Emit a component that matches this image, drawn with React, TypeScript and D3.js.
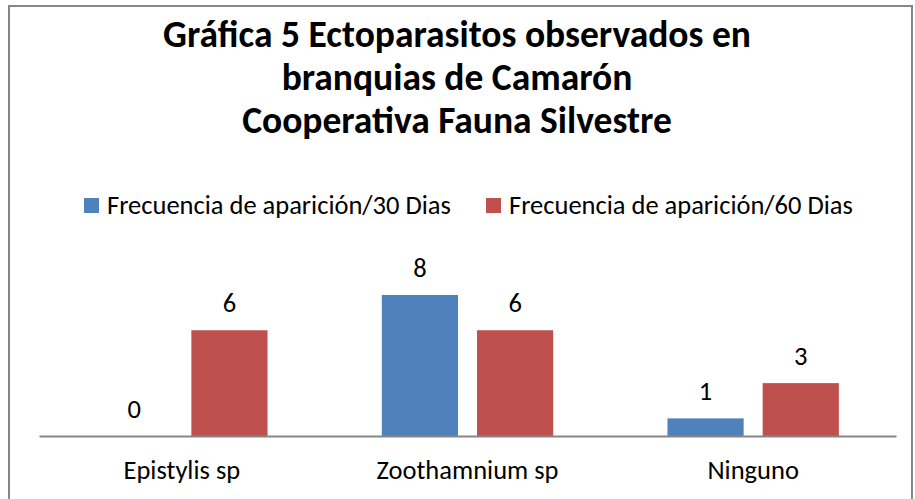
import React, { useEffect, useRef } from 'react';
import * as d3 from 'd3';

const categories = ['Epistylis sp', 'Zoothamnium sp', 'Ninguno'];
const seriesNames = ['Frecuencia de aparición/30 Dias', 'Frecuencia de aparición/60 Dias'];
const dias30 = [0, 8, 1];
const dias60 = [6, 6, 3];
const colors = ['#4F81BD', '#C0504D'];
const titleLines = ['Gráfica 5 Ectoparasitos observados en', 'branquias de Camarón', 'Cooperativa Fauna Silvestre'];

const W = 915;
const H = 499;
const FONT = "Carlito, Calibri, 'Open Sans', sans-serif";

const App = () => {
  const svgRef = useRef<SVGSVGElement>(null);

  useEffect(() => {
    document.body.style.margin = '0';
    const svg = d3.select(svgRef.current);
    svg.selectAll('*').remove();

    // chart border
    svg.append('rect')
      .attr('x', 9).attr('y', 6)
      .attr('width', W - 12).attr('height', H)
      .attr('fill', 'white')
      .attr('stroke', '#868686')
      .attr('stroke-width', 2);

    // title
    svg.append('g')
      .selectAll('text')
      .data(titleLines)
      .enter()
      .append('text')
      .attr('x', 457)
      .attr('y', (_, i) => 47 + i * 43)
      .attr('text-anchor', 'middle')
      .attr('font-family', FONT)
      .attr('font-weight', 'bold')
      .attr('font-size', 37.5)
      .text(d => d);

    // legend
    const legendX = [84, 486];
    const legend = svg.append('g');
    seriesNames.forEach((name, i) => {
      legend.append('rect')
        .attr('x', legendX[i]).attr('y', 198)
        .attr('width', 15).attr('height', 15)
        .attr('fill', colors[i]);
      legend.append('text')
        .attr('x', legendX[i] + 23).attr('y', 214)
        .attr('font-family', FONT)
        .attr('font-size', 26.5)
        .text(name);
    });

    const x0 = d3.scaleBand()
      .domain(categories)
      .range([39, 896]);

    const x1 = d3.scaleBand()
      .domain(['0', '1'])
      .range([0, x0.bandwidth()])
      .paddingInner(0.2)
      .paddingOuter(0.6);

    const y = d3.scaleLinear()
      .domain([0, 8])
      .range([436, 295]);

    const data = categories.map((c, i) => ({ cat: c, vals: [dias30[i], dias60[i]] }));

    const groups = svg.append('g')
      .selectAll('g')
      .data(data)
      .enter()
      .append('g')
      .attr('transform', d => `translate(${x0(d.cat)},0)`);

    groups.selectAll('rect')
      .data(d => d.vals.map((v, k) => ({ v, k })))
      .enter()
      .append('rect')
      .attr('x', d => x1(String(d.k))!)
      .attr('y', d => y(d.v))
      .attr('width', x1.bandwidth())
      .attr('height', d => y(0) - y(d.v))
      .attr('fill', d => colors[d.k]);

    groups.selectAll('text')
      .data(d => d.vals.map((v, k) => ({ v, k })))
      .enter()
      .append('text')
      .attr('x', d => x1(String(d.k))! + x1.bandwidth() / 2)
      .attr('y', d => y(d.v) - 18)
      .attr('text-anchor', 'middle')
      .attr('font-family', FONT)
      .attr('font-size', 26.5)
      .text(d => d.v);

    // axis
    const xAxis = d3.axisBottom(x0).tickSize(0).tickPadding(0);
    const ax = svg.append('g')
      .attr('transform', `translate(0, ${y(0)})`)
      .call(xAxis);
    ax.select('.domain').attr('stroke', '#868686').attr('stroke-width', 2);
    ax.selectAll('text')
      .attr('dy', null)
      .attr('y', 43)
      .attr('font-family', FONT)
      .attr('font-size', 26.5)
      .attr('fill', 'black');
  }, []);

  return (
    <div>
      <svg ref={svgRef} width={W} height={H} style={{ display: 'block' }}></svg>
    </div>
  );
};

export default App;
